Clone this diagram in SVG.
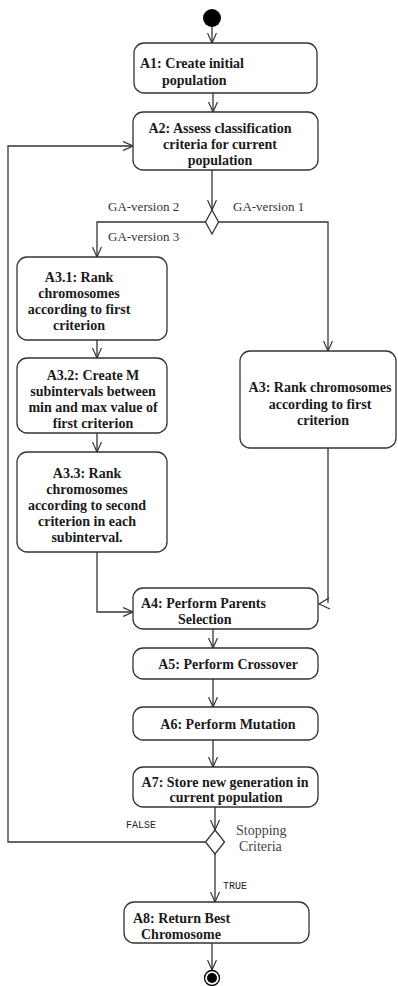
<svg xmlns="http://www.w3.org/2000/svg" width="398" height="986" viewBox="0 0 398 986">
<defs>
<marker id="arr" viewBox="0 0 10 10" refX="10" refY="5" markerWidth="10" markerHeight="10" markerUnits="userSpaceOnUse" orient="auto">
<path d="M0,0.5 L10,5 L0,9.5" fill="none" stroke="#333" stroke-width="1.2"/>
</marker>
</defs>
<style>
.box{fill:#fff;stroke:#333;stroke-width:1.3}
.t{font-family:"Liberation Serif","Times New Roman",serif;font-weight:bold;font-size:14px;fill:#1a1a1a}
.c{text-anchor:middle}
.lbl{font-family:"Liberation Serif","Times New Roman",serif;font-size:13px;fill:#333}
.mono{font-family:"Liberation Mono","Courier New",monospace;font-size:10px;fill:#222}
.ln{fill:none;stroke:#333;stroke-width:1.3}
.la{fill:none;stroke:#333;stroke-width:1.3;marker-end:url(#arr)}
</style>
<rect width="398" height="986" fill="#fff"/>

<g id="connectors">
<path class="la" d="M212,27 V43"/>
<path class="la" d="M213,93 V112"/>
<path class="la" d="M212,170 V210"/>
<path class="la" d="M206,222 H97 V257"/>
<path class="la" d="M219,222 H328 V351"/>
<path class="la" d="M97,340 V358"/>
<path class="la" d="M97,433 V452"/>
<path class="la" d="M97,552 V612 H133"/>
<path class="ln" d="M328,448 V603"/>
<path class="ln" d="M329,598 L319,604 L330,609"/>
<path class="la" d="M213,629 V648"/>
<path class="la" d="M213,679 V707"/>
<path class="la" d="M213,740 V767"/>
<path class="la" d="M215,807 V830"/>
<path class="la" d="M205.5,842 H8 V146 H133"/>
<path class="la" d="M215,854 V902"/>
<path class="la" d="M212,943 V970"/>
</g>

<g id="start"><circle cx="212" cy="18" r="9" fill="#000"/></g>

<g id="A1">
<rect class="box" x="134" y="43" width="183" height="50" rx="10"/>
<text class="t" x="140" y="68">A1: Create initial</text>
<text class="t" x="162" y="85">population</text>
</g>

<g id="A2">
<rect class="box" x="133" y="112" width="185" height="58" rx="10"/>
<text class="t c" x="220" y="133">A2: Assess classification</text>
<text class="t c" x="220" y="149">criteria for current</text>
<text class="t c" x="220" y="165">population</text>
</g>

<g id="D1">
<polygon points="212,210 218.5,222 212,234 205.5,222" fill="#fff" stroke="#333" stroke-width="1.3"/>
</g>

<g id="labels1">
<text class="lbl" x="108" y="211">GA-version 2</text>
<text class="lbl" x="233" y="211">GA-version 1</text>
<text class="lbl" x="108" y="241">GA-version 3</text>
</g>

<g id="A3_1">
<rect class="box" x="17" y="257" width="150" height="83" rx="10"/>
<text class="t c" x="79" y="282">A3.1: Rank</text>
<text class="t c" x="79" y="298">chromosomes</text>
<text class="t c" x="79" y="314">according to first</text>
<text class="t c" x="79" y="330">criterion</text>
</g>

<g id="A3_2">
<rect class="box" x="17" y="358" width="150" height="75" rx="10"/>
<text class="t c" x="93" y="380">A3.2: Create M</text>
<text class="t c" x="93" y="396">subintervals between</text>
<text class="t c" x="93" y="412">min and max value of</text>
<text class="t c" x="93" y="428">first criterion</text>
</g>

<g id="A3_3">
<rect class="box" x="17" y="452" width="150" height="100" rx="10"/>
<text class="t c" x="87" y="478">A3.3: Rank</text>
<text class="t c" x="87" y="494">chromosomes</text>
<text class="t c" x="87" y="510">according to second</text>
<text class="t c" x="87" y="526">criterion in each</text>
<text class="t c" x="87" y="542">subinterval.</text>
</g>

<g id="A3">
<rect class="box" x="240" y="351" width="156" height="97" rx="10"/>
<text class="t c" x="320" y="392">A3: Rank chromosomes</text>
<text class="t c" x="320" y="409">according to first</text>
<text class="t c" x="323" y="425">criterion</text>
</g>

<g id="A4">
<rect class="box" x="133" y="588" width="185" height="41" rx="10"/>
<text class="t" x="141" y="608">A4: Perform Parents</text>
<text class="t" x="178" y="624">Selection</text>
</g>

<g id="A5">
<rect class="box" x="133" y="648" width="185" height="31" rx="10"/>
<text class="t c" x="228" y="669">A5: Perform Crossover</text>
</g>

<g id="A6">
<rect class="box" x="133" y="707" width="185" height="33" rx="10"/>
<text class="t c" x="228" y="729">A6: Perform Mutation</text>
</g>

<g id="A7">
<rect class="box" x="133" y="767" width="185" height="40" rx="10"/>
<text class="t c" x="225" y="787">A7: Store new generation in</text>
<text class="t c" x="226" y="802">current population</text>
</g>

<g id="D2">
<polygon points="215,830 224.5,842 215,854 205.5,842" fill="#fff" stroke="#333" stroke-width="1.3"/>
</g>

<g id="labels2">
<text class="mono" x="126" y="828">FALSE</text>
<text class="lbl" x="236" y="835" style="font-size:14px;fill:#444">Stopping</text>
<text class="lbl" x="239" y="851" style="font-size:14px;fill:#444">Criteria</text>
<text class="mono" x="223" y="889">TRUE</text>
</g>

<g id="A8">
<rect class="box" x="124" y="902" width="185" height="41" rx="10"/>
<text class="t" x="133" y="923">A8: Return Best</text>
<text class="t" x="141" y="939">Chromosome</text>
</g>

<g id="end">
<circle cx="212" cy="978" r="7.5" fill="#fff" stroke="#000" stroke-width="1.3"/>
<circle cx="212" cy="978" r="5" fill="#000"/>
</g>
</svg>
